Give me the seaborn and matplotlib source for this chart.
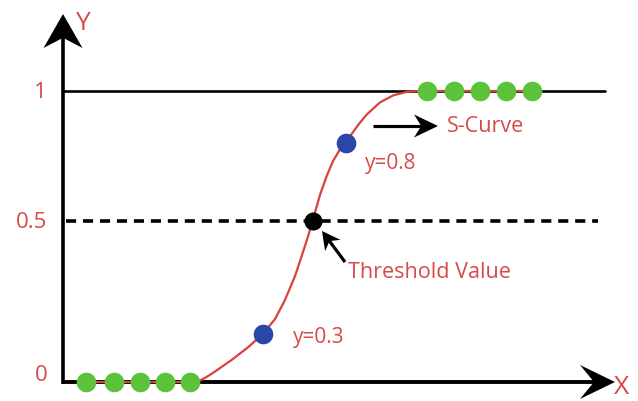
import numpy as np
import pandas as pd
import seaborn as sns
import matplotlib
matplotlib.use("Agg")
import matplotlib.pyplot as plt
from matplotlib.patches import Polygon
from matplotlib.transforms import IdentityTransform

curve_x = [23, 134, 143, 152, 168.7, 185.3, 199.7, 212, 222, 232, 238.7, 245.3,
           249.5, 257, 263.7, 270, 276, 282.5, 289, 296, 303.7, 317, 330.3,
           343.7, 354, 469]
curve_y = [0.0, 0.0, 0.016, 0.036, 0.076, 0.120, 0.165, 0.216, 0.282, 0.364,
           0.433, 0.503, 0.553, 0.643, 0.708, 0.759, 0.794, 0.823, 0.854, 0.887,
           0.919, 0.961, 0.985, 0.997, 1.0, 1.0]

green_x = [23, 51, 77, 102, 127, 364, 391, 417, 443, 469]
green_y = [0, 0, 0, 0, 0, 1, 1, 1, 1, 1]

blue_x = [199.7, 282.5]
blue_y = [0.165, 0.82]
blue_labels = ["y=0.3", "y=0.8"]

threshold_x = 249.5
threshold_y = 0.553

ytick_pos = [0, threshold_y, 1]
ytick_labels = ["0", "0.5", "1"]

RED = "#d9423c"
TXT = "#d64a47"
GREEN = "#5cc23a"
BLUE = "#2a47a8"
PX = 291  # pixels per y unit

sns.set_style("white")
plt.rcParams['font.family'] = ['Open Sans', 'DejaVu Sans']

fig = plt.figure(figsize=(6.38, 4.02), dpi=100)
ax = fig.add_axes([0, 0, 1, 1])
ax.set_xlim(-63, 575)
ax.set_ylim(-19 / PX, 383 / PX)
ax.axis("off")


def arrow(tip, tail, length, half_w, lw, notch=0.7):
    # line plus a concave (stealth) head, head size in pixels
    t = ax.transData.transform(tip)
    s = ax.transData.transform(tail)
    u = (t - s) / np.hypot(*(t - s))
    n = np.array([-u[1], u[0]])
    back = t - length * notch * u
    ax.plot([s[0], back[0]], [s[1], back[1]], color="black", lw=lw,
            transform=IdentityTransform(), solid_capstyle="butt", zorder=2)
    head = [t, t - length * u + half_w * n, back, t - length * u - half_w * n]
    ax.add_patch(Polygon(head, closed=True, color="black", lw=0,
                         transform=IdentityTransform(), zorder=2))


# reference lines
ax.plot([0, 542], [1, 1], color="black", lw=1.9, zorder=1)
ax.plot([3, 535], [threshold_y, threshold_y], color="black", lw=2.6,
        linestyle=(0, (2.8, 1.9)), zorder=1)

# axes
arrow((0, 368 / PX), (0, -2 / PX), 34, 19.5, 2.6)
arrow((552, 0), (-1.5, 0), 35, 17, 2.8, notch=0.6)

# curve and points
df = pd.DataFrame({"x": curve_x, "y": curve_y})
sns.lineplot(data=df, x="x", y="y", color=RED, lw=1.6, sort=False, ax=ax, zorder=3)
sns.scatterplot(x=green_x, y=green_y, color=GREEN, s=200, linewidth=0, ax=ax, zorder=4)
sns.scatterplot(x=blue_x, y=blue_y, color=BLUE, s=200, linewidth=0, ax=ax, zorder=4)
sns.scatterplot(x=[threshold_x], y=[threshold_y], color="black", s=170, linewidth=0,
                ax=ax, zorder=4)

# annotations
arrow((375, 256 / PX), (310, 256 / PX), 24, 11.5, 2.3)
arrow((259, 151 / PX), (282, 120 / PX), 18, 9.5, 2.3)
ax.text(384, 256 / PX, "S-Curve", color=TXT, fontsize=15.5, va="center", ha="left")
ax.text(285, 111 / PX, "Threshold Value", color=TXT, fontsize=15.5, va="center",
        ha="left")
ax.text(blue_x[0] + 30, 45 / PX, blue_labels[0], color=TXT, fontsize=15,
        va="center", ha="left")
ax.text(blue_x[1] + 19, 220 / PX, blue_labels[1], color=TXT, fontsize=15,
        va="center", ha="left")

for pos, lab in zip(ytick_pos, ytick_labels):
    ax.text(-15 if pos == 0 else -16, pos + (0.025 if pos == 0 else 0), lab,
            color=TXT, fontsize=16, va="center", ha="right")

ax.text(19, 360 / PX, "Y", color=TXT, fontsize=19, va="center", ha="center")
ax.text(559, -5 / PX, "X", color=TXT, fontsize=19, va="center", ha="center")

fig.savefig("out.png", dpi=100)
